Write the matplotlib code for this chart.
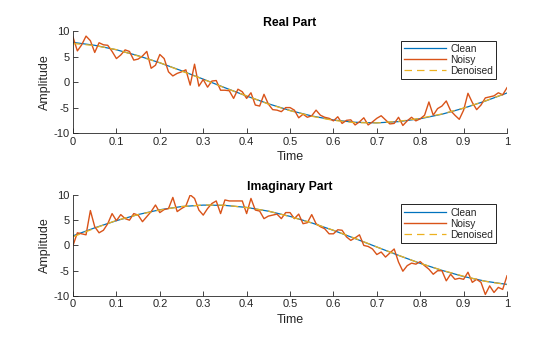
import numpy as np
import matplotlib
matplotlib.use("Agg")
import matplotlib.pyplot as plt

plt.rcParams['font.family'] = ['Liberation Sans', 'DejaVu Sans']

# ---- data ----
t_noisy = [round(i * 0.01, 2) for i in range(101)]

real_noisy = [
    8.8, 6.1, 7.3, 9.0, 8.1, 5.8, 7.7, 7.3, 7.2, 6.0,
    4.6, 5.3, 6.3, 6.0, 4.3, 4.5, 5.1, 6.0, 2.7, 3.3,
    5.4, 4.6, 2.0, 1.2, 1.7, 2.0, 2.4, -0.6, 3.5, -0.8,
    0.5, -1.0, 0.2, 0.3, -1.6, -1.6, -1.7, -3.2, -1.4, -1.9,
    -3.2, -2.1, -4.5, -4.7, -2.4, -4.3, -5.4, -5.5, -5.8, -5.0,
    -5.0, -5.5, -7.0, -6.3, -6.9, -6.6, -5.5, -6.5, -6.9, -7.1,
    -7.6, -6.8, -8.1, -7.5, -7.4, -8.4, -7.8, -7.0, -8.4, -7.8,
    -7.1, -6.6, -7.4, -8.2, -8.1, -6.9, -8.5, -7.6, -6.9, -7.6,
    -7.2, -6.5, -3.9, -6.5, -5.2, -4.7, -3.7, -5.6, -6.5, -7.3,
    -5.5, -2.2, -4.0, -5.4, -4.5, -3.1, -2.9, -2.7, -2.1, -2.5,
    -1.1,
]

imag_noisy = [
    0.0, 2.5, 2.3, 2.1, 6.9, 3.7, 2.5, 3.0, 4.3, 6.3,
    4.9, 6.1, 5.3, 5.0, 6.3, 6.0, 4.7, 5.7, 6.7, 8.0,
    6.5, 7.1, 7.3, 9.5, 6.7, 7.3, 7.8, 10.0, 9.3, 7.0,
    6.0, 7.3, 8.3, 8.8, 6.3, 9.0, 8.8, 8.8, 8.8, 8.8,
    6.3, 9.3, 7.0, 6.8, 5.3, 5.8, 6.0, 6.2, 5.3, 6.5,
    6.5, 5.3, 6.2, 4.3, 4.5, 6.1, 4.3, 3.7, 3.3, 2.3,
    2.3, 3.1, 3.0, 1.7, 1.0, 1.5, 2.1, 0.0, -0.2, -0.7,
    -1.8, -1.3, -2.3, -1.5, -0.7, -3.3, -5.1, -4.0, -3.5, -3.7,
    -3.2, -4.0, -4.7, -5.7, -5.0, -5.0, -7.0, -5.7, -6.7, -6.5,
    -6.7, -5.3, -7.3, -6.7, -7.3, -9.7, -8.0, -9.3, -8.3, -8.7,
    -6.0,
]

t_smooth = [round(i * 0.05, 2) for i in range(21)]

real_clean = [7.77, 7.20, 6.32, 5.16, 3.77, 2.22, 0.57, -1.11, -2.74, -4.25,
              -5.57, -6.64, -7.43, -7.88, -7.99, -7.75, -7.18, -6.30, -5.12, -3.72,
              -2.14]
imag_clean = [1.90, 3.48, 4.90, 6.11, 7.06, 7.69, 7.98, 7.92, 7.52, 6.78,
              5.75, 4.46, 2.98, 1.36, -0.31, -1.97, -3.54, -4.93, -6.15, -7.08,
              -7.71]

real_denoised = [7.55, 7.15, 6.35, 5.10, 3.80, 2.15, 0.55, -1.15, -2.70, -4.30,
                 -5.60, -6.70, -7.50, -7.95, -8.00, -7.70, -7.10, -6.25, -5.10, -3.70,
                 -2.10]
imag_denoised = [1.70, 3.40, 4.95, 6.10, 7.00, 7.70, 8.00, 7.95, 7.50, 6.80,
                 5.70, 4.45, 3.00, 1.40, -0.30, -1.95, -3.55, -4.90, -6.10, -7.10,
                 -7.75]

x_ticks = [0, 0.1, 0.2, 0.3, 0.4, 0.5, 0.6, 0.7, 0.8, 0.9, 1]
x_tick_labels = ['0', '0.1', '0.2', '0.3', '0.4', '0.5', '0.6', '0.7', '0.8', '0.9', '1']
y_ticks = [-10, -5, 0, 5, 10]
y_tick_labels = ['-10', '-5', '0', '5', '10']

C_CLEAN = '#0072BD'
C_NOISY = '#D95319'
C_DEN = '#EDB120'
AX_COL = '#262626'

fig = plt.figure(figsize=(5.6, 3.37), dpi=100)
fig.patch.set_facecolor('white')

panels = [
    ([0.1304, 0.605, 0.775, 0.303], 'Real Part', real_clean, real_noisy, real_denoised),
    ([0.1304, 0.1217, 0.775, 0.300], 'Imaginary Part', imag_clean, imag_noisy, imag_denoised),
]

for rect, title, clean, noisy, den in panels:
    ax = fig.add_axes(rect)
    ax.plot(t_smooth, clean, color=C_CLEAN, lw=0.9, label='Clean')
    ax.plot(t_noisy, noisy, color=C_NOISY, lw=1.0, label='Noisy')
    ax.plot(t_smooth, den, color=C_DEN, lw=0.9, ls=(0, (6, 4)), label='Denoised')
    ax.set_xlim(0, 1)
    ax.set_ylim(-10, 10)
    ax.set_xticks(x_ticks)
    ax.set_xticklabels(x_tick_labels)
    ax.set_yticks(y_ticks)
    ax.set_yticklabels(y_tick_labels)
    ax.tick_params(direction='in', length=3.5, width=0.6, labelsize=8,
                   colors=AX_COL, pad=2.5, top=False, right=False)
    for side in ['top', 'right']:
        ax.spines[side].set_visible(False)
    for side in ['left', 'bottom']:
        ax.spines[side].set_color(AX_COL)
        ax.spines[side].set_linewidth(0.6)
    ax.set_title(title, fontsize=8.8, fontweight='bold', color='black', pad=3.5)
    ax.set_xlabel('Time', fontsize=9, color=AX_COL, labelpad=3)
    ax.set_ylabel('Amplitude', fontsize=9, color=AX_COL, labelpad=2)
    leg = ax.legend(loc='upper right', bbox_to_anchor=(0.975, 0.905),
                    fontsize=7.3, handlelength=4.2, handletextpad=0.4,
                    borderpad=0.3, labelspacing=0.1, borderaxespad=0,
                    fancybox=False, framealpha=1, edgecolor='black')
    leg.get_frame().set_linewidth(0.6)
    for txt in leg.get_texts():
        txt.set_color(AX_COL)

fig.savefig('out.png', dpi=100, facecolor='white')
